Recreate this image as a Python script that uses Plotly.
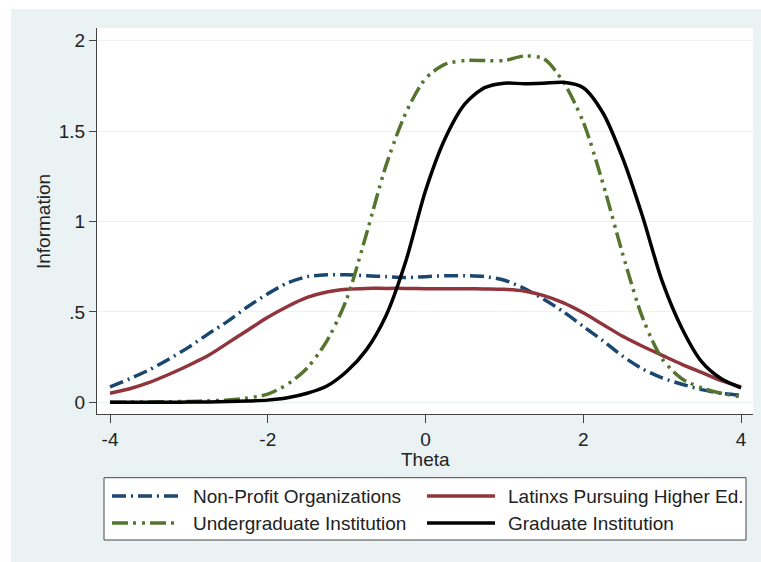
import plotly.graph_objects as go

# ---- data ----
theta = [-4.0, -3.75, -3.5, -3.25, -3.0, -2.75, -2.5, -2.25, -2.0, -1.75, -1.5, -1.25,
         -1.0, -0.75, -0.5, -0.25, 0.0, 0.25, 0.5, 0.75, 1.0, 1.25, 1.5, 1.75,
         2.0, 2.25, 2.5, 2.75, 3.0, 3.25, 3.5, 3.75, 4.0]

nonprofit = [0.085, 0.13, 0.18, 0.24, 0.305, 0.38, 0.45, 0.53, 0.60, 0.66, 0.695, 0.705,
             0.705, 0.70, 0.695, 0.69, 0.695, 0.70, 0.70, 0.695, 0.675, 0.63, 0.57, 0.50,
             0.42, 0.34, 0.255, 0.185, 0.135, 0.10, 0.07, 0.05, 0.04]

latinxs = [0.05, 0.075, 0.11, 0.155, 0.205, 0.26, 0.33, 0.40, 0.47, 0.53, 0.58, 0.61,
           0.625, 0.63, 0.63, 0.63, 0.628, 0.628, 0.628, 0.627, 0.625, 0.615, 0.59, 0.55,
           0.495, 0.43, 0.365, 0.31, 0.26, 0.21, 0.165, 0.12, 0.085]

undergrad = [0.0, 0.001, 0.002, 0.003, 0.005, 0.008, 0.013, 0.024, 0.045, 0.10, 0.19, 0.34,
             0.57, 0.93, 1.31, 1.60, 1.79, 1.87, 1.89, 1.89, 1.89, 1.915, 1.90, 1.77,
             1.55, 1.21, 0.82, 0.47, 0.24, 0.13, 0.08, 0.05, 0.03]

graduate = [0.0, 0.0, 0.0, 0.0005, 0.001, 0.002, 0.004, 0.007, 0.012, 0.025, 0.05, 0.09,
            0.17, 0.29, 0.48, 0.78, 1.17, 1.46, 1.65, 1.74, 1.765, 1.762, 1.765, 1.77,
            1.74, 1.60, 1.35, 1.03, 0.67, 0.41, 0.225, 0.13, 0.08]

series_names = ["Non-Profit Organizations", "Latinxs Pursuing Higher Ed.",
                "Undergraduate Institution", "Graduate Institution"]
series_values = [nonprofit, latinxs, undergrad, graduate]
series_colors = ["#1A476F", "#90353B", "#55752F", "#000000"]
series_dash = ["14px,5px,2px,5px", "solid", "16px,5px,3px,6px,3px,5px", "solid"]

y_tickvals = [0, 0.5, 1, 1.5, 2]
y_ticktext = ["0", ".5", "1", "1.5", "2"]
x_tickvals = [-4, -2, 0, 2, 4]
x_ticktext = ["-4", "-2", "0", "2", "4"]

# ---- layout geometry (pixels) ----
W, H = 761, 562
L, R, T, B = 97, 8, 28, 148
PW, PH = W - L - R, H - T - B
FONT = "Liberation Sans, Arial, sans-serif"
FS = 19
TXT = "#222222"
BG = "#EAF2F3"


def px(x):
    return (x - L) / PW


def py(y):
    return (H - B - y) / PH


fig = go.Figure()
for name, vals, col, dash in zip(series_names, series_values, series_colors, series_dash):
    fig.add_trace(go.Scatter(x=theta, y=vals, name=name, mode="lines",
                             line=dict(color=col, width=3.5, dash=dash, shape="spline", smoothing=0.8),
                             showlegend=False))

shapes = []
# white outer margins (left and top)
shapes.append(dict(type="rect", xref="paper", yref="paper", x0=px(-5), x1=px(11), y0=py(H + 5), y1=py(-5),
                   fillcolor="white", line=dict(width=0), layer="above"))
shapes.append(dict(type="rect", xref="paper", yref="paper", x0=px(-5), x1=px(W + 5), y0=py(9), y1=py(-5),
                   fillcolor="white", line=dict(width=0), layer="above"))

# legend box
lx0, lx1, ly0, ly1 = 104, 746, 477.7, 540
shapes.append(dict(type="rect", xref="paper", yref="paper", x0=px(lx0), x1=px(lx1), y0=py(ly1), y1=py(ly0),
                   fillcolor="white", line=dict(color="#444444", width=1), layer="above"))

legend_pos = [(112, 180, 191, 496), (427, 495, 506, 496), (112, 180, 191, 523), (427, 495, 506, 523)]
annotations = []
for (sx0, sx1, tx, yy), name, col, dash in zip(legend_pos, series_names, series_colors, series_dash):
    shapes.append(dict(type="line", xref="paper", yref="paper", x0=px(sx0), x1=px(sx1), y0=py(yy), y1=py(yy),
                       line=dict(color=col, width=3.5, dash=dash), layer="above"))
    annotations.append(dict(xref="paper", yref="paper", x=px(tx), y=py(yy), text=name, showarrow=False,
                            xanchor="left", yanchor="middle", font=dict(family=FONT, size=FS, color=TXT)))

annotations.append(dict(xref="paper", yref="paper", x=px(425), y=py(459), text="Theta", showarrow=False,
                        xanchor="center", yanchor="middle", font=dict(family=FONT, size=FS, color=TXT)))
annotations.append(dict(xref="paper", yref="paper", x=px(43.5), y=py(221.5), text="Information", showarrow=False,
                        textangle=-90, xanchor="center", yanchor="middle", font=dict(family=FONT, size=FS, color=TXT)))

fig.update_layout(
    width=W, height=H,
    margin=dict(l=L, r=R, t=T, b=B, pad=0),
    paper_bgcolor=BG, plot_bgcolor="white",
    font=dict(family=FONT, size=FS, color=TXT),
    showlegend=False,
    shapes=shapes, annotations=annotations,
    xaxis=dict(range=[-4.165, 4.152], tickvals=x_tickvals, ticktext=x_ticktext,
               showgrid=False, zeroline=False, showline=True, linecolor="#444444", linewidth=1,
               ticks="outside", ticklen=8, tickcolor="#444444", tickwidth=1,
               tickfont=dict(family=FONT, size=FS, color=TXT), fixedrange=True),
    yaxis=dict(range=[-0.0647, 2.070], tickvals=y_tickvals, ticktext=y_ticktext,
               showgrid=True, gridcolor=BG, gridwidth=1.2, zeroline=False,
               showline=True, linecolor="#444444", linewidth=1,
               ticks="outside", ticklen=7, tickcolor="#444444", tickwidth=1,
               tickfont=dict(family=FONT, size=FS, color=TXT), fixedrange=True),
)

fig.write_html("out.html")
